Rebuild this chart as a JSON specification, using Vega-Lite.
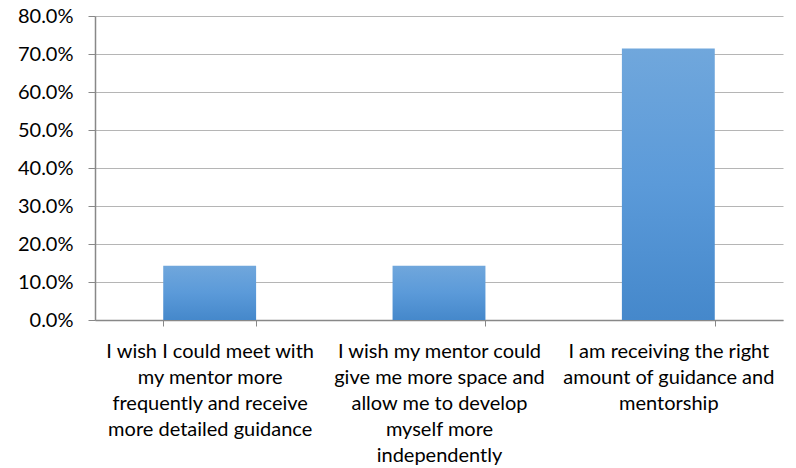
{
  "$schema": "https://vega.github.io/schema/vega-lite/v6.json",
  "width": 688,
  "height": 304,
  "autosize": "none",
  "padding": {"left": 95, "top": 16, "right": 13, "bottom": 148},
  "background": "white",
  "config": {"view": {"stroke": null}, "font": "Lato"},
  "data": {
    "values": [
      {"answer": "I wish I could meet with|my mentor more|frequently and receive|more detailed guidance", "share": 0.1429},
      {"answer": "I wish my mentor could|give me more space and|allow me to develop|myself more|independently", "share": 0.1429},
      {"answer": "I am receiving the right|amount of guidance and|mentorship", "share": 0.7143}
    ]
  },
  "mark": {
    "type": "bar",
    "color": {
      "gradient": "linear",
      "x1": 0, "y1": 0, "x2": 0, "y2": 1,
      "stops": [
        {"offset": 0, "color": "#70a7dc"},
        {"offset": 0.5, "color": "#5b9ad9"},
        {"offset": 1, "color": "#4588cb"}
      ]
    }
  },
  "encoding": {
    "x": {
      "field": "answer",
      "type": "nominal",
      "sort": null,
      "scale": {"paddingInner": 0.595, "paddingOuter": 0.2975},
      "axis": {
        "title": null,
        "labelAngle": 0,
        "labelExpr": "split(datum.label, '|')",
        "labelFont": "Lato",
        "labelFontSize": 20,
        "labelColor": "#000000",
        "labelLineHeight": 26,
        "labelLimit": 400,
        "labelPadding": 15,
        "labelBaseline": "top",
        "tickBand": "extent",
        "tickSize": 6,
        "tickColor": "#888888",
        "domainColor": "#888888",
        "domainWidth": 1.5,
        "grid": false
      }
    },
    "y": {
      "field": "share",
      "type": "quantitative",
      "scale": {"domain": [0, 0.8]},
      "axis": {
        "title": null,
        "values": [0, 0.1, 0.2, 0.3, 0.4, 0.5, 0.6, 0.7, 0.8],
        "format": ".1%",
        "labelFont": "Lato",
        "labelFontSize": 20,
        "labelColor": "#000000",
        "labelPadding": 15,
        "tickSize": 7,
        "tickColor": "#888888",
        "domainColor": "#888888",
        "domainWidth": 1.5,
        "grid": true,
        "gridColor": "#b5b5b5",
        "gridWidth": 1.2
      }
    }
  }
}
